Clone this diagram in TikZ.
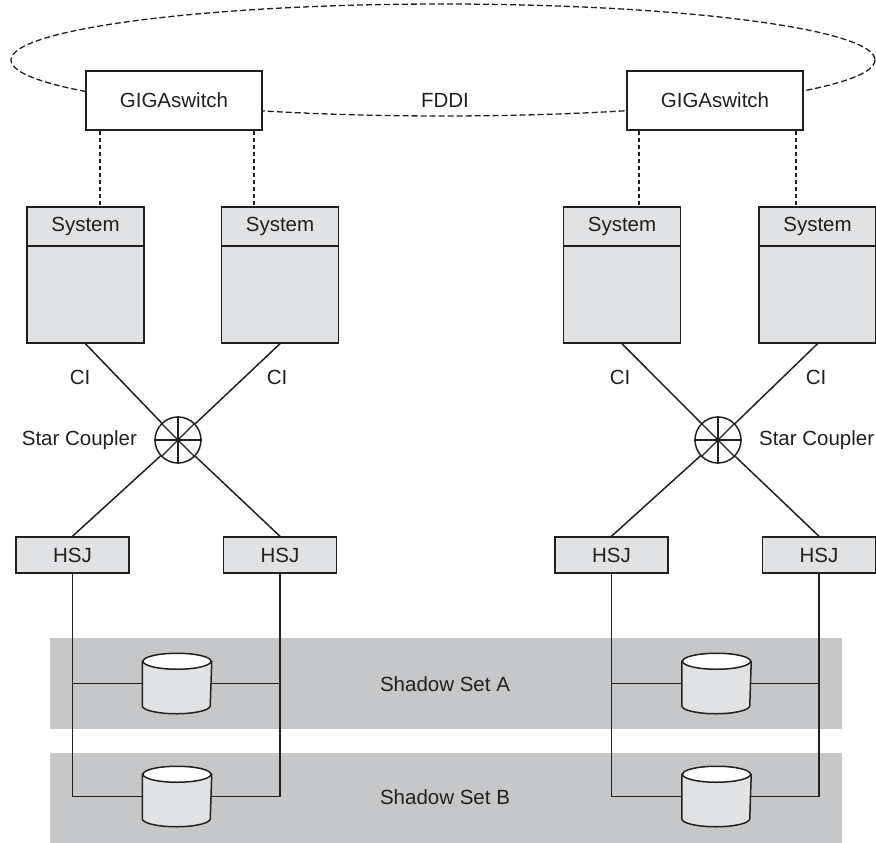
\documentclass[tikz,border=0pt]{standalone}
\usepackage{fontspec}
\setmainfont{Liberation Sans}
\usepackage{tikz}
\usetikzlibrary{calc}
\definecolor{boxgray}{HTML}{E1E2E4}
\definecolor{bandgray}{HTML}{C6C7C9}
\definecolor{inkblack}{HTML}{231F20}

\begin{document}
\begin{tikzpicture}[x=1pt, y=-1pt, line width=1.5pt, color=inkblack,
        font=\fontsize{20.5}{24}\selectfont,
        switch_style/.style={rectangle,draw,fill=white,minimum width=176,minimum height=59,inner sep=0},
        system_style/.style={rectangle,draw,fill=boxgray,minimum width=117,minimum height=136,inner sep=0},
        header_style/.style={rectangle,draw,fill=boxgray,minimum width=117,minimum height=39,inner sep=0,anchor=north},
        hsj_style/.style={rectangle,draw,fill=boxgray,minimum width=113,minimum height=36,inner sep=0},
        coupler_style/.style={circle,draw,fill=white,minimum size=46,inner sep=0},
        disk_style/.style={rectangle,minimum width=68,minimum height=59,inner sep=0},
        band_style/.style={fill=bandgray,draw=none},
        ring_style/.style={draw,line width=1.3pt,dash pattern=on 6pt off 3pt},
        drop_style/.style={draw,line width=1.6pt,dash pattern=on 4pt off 3pt},
        edge_style/.style={draw,line width=1.5pt,-}]

        \useasboundingbox (0,0) rectangle (876,843);

        % shadow set bands
        \fill [band_style] (50,638) rectangle (842,729);
        \fill [band_style] (50,753) rectangle (842,843);
        \node (shA) at (445,684) {Shadow Set A};
        \node (shB) at (445,797) {Shadow Set B};

        % FDDI ring
        \draw [ring_style] (443,60) ellipse [x radius=432, y radius=56];
        \node (fddi) at (445,100) {FDDI};
        \node [switch_style](gs1) at (174,100.5) {GIGAswitch};
        \node [switch_style](gs2) at (715,100.5) {GIGAswitch};

        % systems
        \node [system_style](sys1) at (85.5,275) {};
        \node [system_style](sys2) at (280,275) {};
        \node [system_style](sys3) at (622,275) {};
        \node [system_style](sys4) at (817.5,275) {};
        \foreach \s in {sys1,sys2,sys3,sys4}
            \node [header_style](\s h) at (\s.north) {System};

        \draw [drop_style] ([xshift=-74pt]gs1.south) -- ([xshift=14.5pt]sys1.north);
        \draw [drop_style] ([xshift=80pt]gs1.south) -- ([xshift=-26pt]sys2.north);
        \draw [drop_style] ([xshift=-76pt]gs2.south) -- ([xshift=17pt]sys3.north);
        \draw [drop_style] ([xshift=81pt]gs2.south) -- ([xshift=-21.5pt]sys4.north);

        % star couplers
        \node [coupler_style](sc1) at (178,440) {};
        \node [coupler_style](sc2) at (718,440) {};
        \foreach \n in {sc1,sc2}
            \foreach \a/\b in {0/180,45/225,90/270,135/315}
                \draw [line width=1.3pt] (\n.\a) -- (\n.\b);
        \node [anchor=east](scl1) at (141,440) {Star Coupler};
        \node [anchor=west](scl2) at (755,440) {Star Coupler};

        \node [hsj_style](hsj1) at (72.5,555) {HSJ};
        \node [hsj_style](hsj2) at (280,555) {HSJ};
        \node [hsj_style](hsj3) at (611.5,555) {HSJ};
        \node [hsj_style](hsj4) at (819,555) {HSJ};

        \draw [edge_style] (sys1.south) -- (sc1);
        \draw [edge_style] (sys2.south) -- (sc1);
        \draw [edge_style] (sys3.south) -- (sc2);
        \draw [edge_style] (sys4.south) -- (sc2);
        \draw [edge_style] (sc1) -- (hsj1.north);
        \draw [edge_style] (sc1) -- (hsj2.north);
        \draw [edge_style] (sc2) -- (hsj3.north);
        \draw [edge_style] (sc2) -- (hsj4.north);
        \node (ci1) at (80,377) {CI};
        \node (ci2) at (277,377) {CI};
        \node (ci3) at (620,377) {CI};
        \node (ci4) at (816,377) {CI};

        % disks
        \node [disk_style](dA1) at (177,683.5) {};
        \node [disk_style](dB1) at (177,796.5) {};
        \node [disk_style](dA2) at (716.5,683.5) {};
        \node [disk_style](dB2) at (716.5,796.5) {};

        \draw [edge_style] (hsj1.south) |- (dB1.west);
        \draw [edge_style] (hsj2.south) |- (dB1.east);
        \draw [edge_style] (hsj3.south) |- (dB2.west);
        \draw [edge_style] (hsj4.south) |- (dB2.east);
        \draw [edge_style] (dA1.west) -- (dA1.west -| hsj1.south);
        \draw [edge_style] (dA1.east) -- (dA1.east -| hsj2.south);
        \draw [edge_style] (dA2.west) -- (dA2.west -| hsj3.south);
        \draw [edge_style] (dA2.east) -- (dA2.east -| hsj4.south);

        \foreach \d in {dA1,dB1,dA2,dB2} {
            \filldraw [fill=boxgray] ($(\d.north west)+(0,8)$) -- ($(\d.south west)+(0,-8)$)
                arc [start angle=180, end angle=360, x radius=34pt, y radius=8pt]
                -- ($(\d.north east)+(0,8)$) -- cycle;
            \filldraw [fill=white] ($(\d.north)+(0,8)$) ellipse [x radius=34pt, y radius=8pt];
        }
\end{tikzpicture}
\end{document}
